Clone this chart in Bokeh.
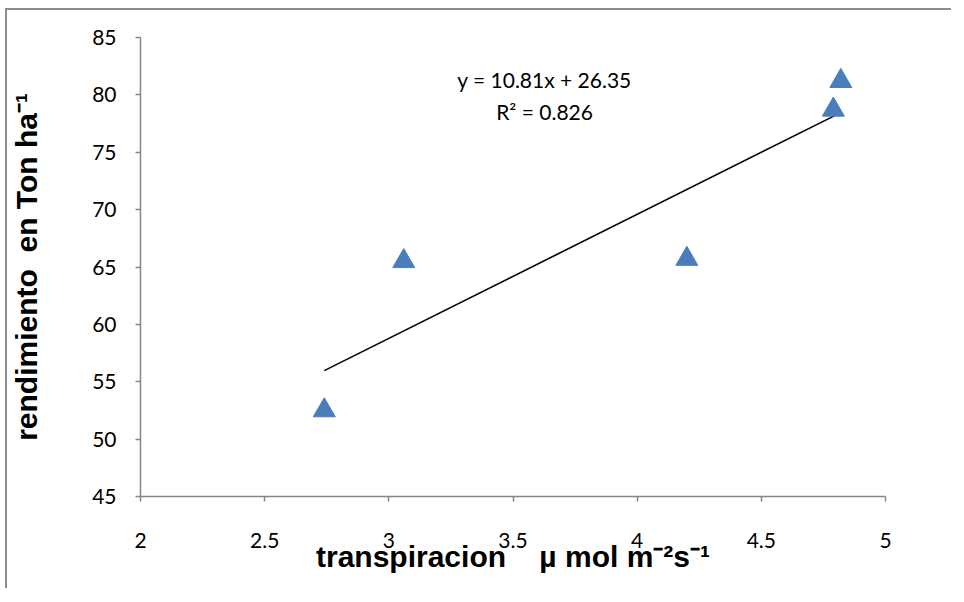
from bokeh.plotting import figure
from bokeh.models import Range1d, FixedTicker, Label
from bokeh.embed import file_html
from bokeh.resources import INLINE

# data
transpiracion = [2.74, 3.06, 4.20, 4.79, 4.82]
rendimiento = [52.5, 65.5, 65.7, 78.7, 81.2]
slope = 10.81
intercept = 26.35
r2 = 0.826

x_ticks = [2, 2.5, 3, 3.5, 4, 4.5, 5]
x_tick_labels = ["2", "2.5", "3", "3.5", "4", "4.5", "5"]
y_ticks = [45, 50, 55, 60, 65, 70, 75, 80, 85]
y_tick_labels = ["45", "50", "55", "60", "65", "70", "75", "80", "85"]

x_title = "transpiracion\u00a0\u00a0\u00a0\u00a0\u00b5 mol m\u207b\u00b2s\u207b\u00b9"
y_title = "rendimiento\u00a0\u00a0en Ton ha\u207b\u00b9"

AX = "#868686"
TICK_FONT = "Lato"
TITLE_FONT = "Liberation Sans"

p = figure(frame_width=745, frame_height=459,
           min_border_left=120, min_border_right=66,
           min_border_top=27, min_border_bottom=92,
           x_range=Range1d(2, 5), y_range=Range1d(45, 85),
           output_backend="svg", toolbar_location=None,
           background_fill_color="white", border_fill_color="white")
p.styles = {"border-left": "2px solid #8c8c8c", "border-top": "2px solid #8c8c8c",
            "margin-left": "5px", "margin-top": "8px"}
p.outline_line_color = None
p.xgrid.visible = False
p.ygrid.visible = False

for ax in (p.xaxis[0], p.yaxis[0]):
    ax.axis_line_color = AX
    ax.axis_line_width = 1.5
    ax.major_tick_line_color = AX
    ax.major_tick_line_width = 1.5
    ax.major_tick_in = 0
    ax.major_tick_out = 5
    ax.minor_tick_line_color = None
    ax.major_label_text_font = TICK_FONT
    ax.major_label_text_font_size = "21px"
    ax.major_label_text_color = "black"
    ax.axis_label_text_font = TITLE_FONT
    ax.axis_label_text_font_style = "bold"
    ax.axis_label_text_font_size = "30px"
    ax.axis_label_text_color = "black"

p.xaxis[0].ticker = FixedTicker(ticks=x_ticks)
p.xaxis[0].major_label_overrides = dict(zip(x_ticks, x_tick_labels))
p.yaxis[0].ticker = FixedTicker(ticks=y_ticks)
p.yaxis[0].major_label_overrides = dict(zip(y_ticks, y_tick_labels))
p.xaxis[0].major_label_standoff = 31
p.yaxis[0].major_label_standoff = 19
p.xaxis[0].axis_label = x_title
p.yaxis[0].axis_label = y_title
p.xaxis[0].axis_label_standoff = -11
p.yaxis[0].axis_label_standoff = 46

# trend line from the fitted equation over the data range
x_fit = [min(transpiracion), max(transpiracion)]
y_fit = [slope * v + intercept for v in x_fit]
p.line(x_fit, y_fit, line_color="black", line_width=1.6)

p.scatter(transpiracion, rendimiento, marker="triangle", size=22,
          fill_color="#4A7EBB", line_color="#4A7EBB", line_width=1)

eq_x = 3.627
p.add_layout(Label(x=eq_x, y=81.35, text=f"y = {slope}x + {intercept}",
                   text_align="center", text_baseline="middle",
                   text_font=TICK_FONT, text_font_size="21px", text_color="black"))
p.add_layout(Label(x=eq_x, y=78.55, text=f"R\u00b2 = {r2}",
                   text_align="center", text_baseline="middle",
                   text_font=TICK_FONT, text_font_size="21px", text_color="black"))

open("out.html", "w").write(file_html(p, INLINE))
